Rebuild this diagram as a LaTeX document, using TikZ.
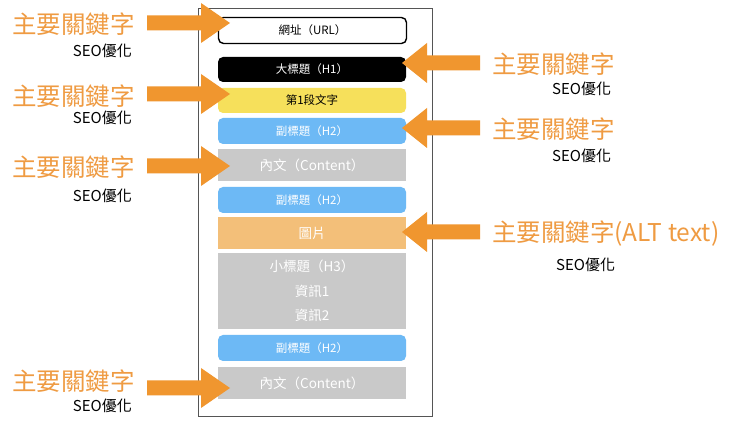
\documentclass[tikz,border=0pt]{standalone}
\usepackage{fontspec}
\setmainfont{Noto Sans CJK TC}
\definecolor{arrowor}{HTML}{F0962F}
\definecolor{labelor}{HTML}{EF9B42}
\definecolor{hblue}{HTML}{6DB9F5}
\definecolor{hyellow}{HTML}{F6E05B}
\definecolor{hgray}{HTML}{C9C9C9}
\definecolor{horange}{HTML}{F3BF79}
\definecolor{framegray}{HTML}{555555}
\newcommand\rblockarrow[3]{% tail x, tip x, y  (tip to the right)
  \fill[arrowor] (#1,#3-7.5) -- (#2-29,#3-7.5) -- (#2-29,#3-20) -- (#2,#3)
    -- (#2-29,#3+20) -- (#2-29,#3+7.5) -- (#1,#3+7.5) -- cycle;}
\newcommand\lblockarrow[3]{% tail x, tip x, y  (tip to the left)
  \fill[arrowor] (#1,#3-7.5) -- (#2+25,#3-7.5) -- (#2+25,#3-20) -- (#2,#3)
    -- (#2+25,#3+20) -- (#2+25,#3+7.5) -- (#1,#3+7.5) -- cycle;}
\begin{document}
\begin{tikzpicture}[x=1pt,y=-1pt,
  box/.style={minimum width=188pt, inner sep=0pt, outer sep=0pt, anchor=north west},
  rbox/.style={box, rounded corners=5pt},
  wtext/.style={text=white, font=\fontsize{11.5}{13}\selectfont},
  gtext/.style={text=white, font=\fontsize{13.5}{15}\selectfont},
  key/.style={text=labelor, inner sep=0pt, font=\fontsize{24.5}{27}\selectfont},
  seo/.style={text=black, inner sep=0pt, font=\fontsize{15}{17}\selectfont}]
\useasboundingbox (0,0) rectangle (729,430);
\fill[white] (0,0) rectangle (729,430);
% frame
\node[draw=framegray, line width=0.8pt, minimum width=234pt, minimum height=408pt,
  inner sep=0pt, anchor=north west] (frame) at (198,8) {};
% boxes
\node[rbox, draw=black, line width=1.4pt, fill=white, minimum height=26pt,
  font=\fontsize{11.5}{13}\selectfont] (url) at (218.5,17.5) {網址（URL）};
\node[rbox, fill=black, minimum height=25pt, wtext] (h1) at (218,57) {大標題（H1）};
\node[rbox, fill=hyellow, minimum height=25pt, font=\fontsize{11.5}{13}\selectfont] (p1) at (218,88) {第1段文字};
\node[rbox, fill=hblue, minimum height=26pt, wtext] (h2a) at (218,118) {副標題（H2）};
\node[box, fill=hgray, minimum height=32pt, gtext] (c1) at (218,149) {內文（Content）};
\node[rbox, fill=hblue, minimum height=26pt, wtext] (h2b) at (218,187) {副標題（H2）};
\node[box, fill=horange, minimum height=32pt, gtext] (img) at (218,217) {圖片};
\node[box, fill=hgray, minimum height=76pt, text=white, align=center,
  font=\fontsize{13.5}{24.5}\selectfont] (h3) at (218,253) {小標題（H3）\\資訊1\\資訊2};
\node[rbox, fill=hblue, minimum height=26pt, wtext] (h2c) at (218,335) {副標題（H2）};
\node[box, fill=hgray, minimum height=32pt, gtext] (c2) at (218,367) {內文（Content）};
% left labels
\node[key, anchor=east] (lk1) at (135,24) {主要關鍵字};
\node[seo, anchor=east] (ls1) at (132,51) {SEO優化};
\node[key, anchor=east] (lk2) at (135,96) {主要關鍵字};
\node[seo, anchor=east] (ls2) at (132,118) {SEO優化};
\node[key, anchor=east] (lk3) at (135,167) {主要關鍵字};
\node[seo, anchor=east] (ls3) at (132,196) {SEO優化};
\node[key, anchor=east] (lk4) at (135,381) {主要關鍵字};
\node[seo, anchor=east] (ls4) at (132,406) {SEO優化};
% right labels
\node[key, anchor=west] (rk1) at (492,64) {主要關鍵字};
\node[seo, anchor=west] (rs1) at (552,89) {SEO優化};
\node[key, anchor=west] (rk2) at (492,129) {主要關鍵字};
\node[seo, anchor=west] (rs2) at (552,156) {SEO優化};
\node[key, anchor=west] (rk3) at (492,234) {主要關鍵字(ALT text)};
\node[seo, anchor=west] (rs3) at (556,265) {SEO優化};
% arrows
\rblockarrow{147}{230}{23}
\rblockarrow{147}{230}{94}
\rblockarrow{147}{230}{166}
\rblockarrow{147}{230}{388}
\lblockarrow{480}{402}{63}
\lblockarrow{480}{402}{128}
\lblockarrow{480}{402}{232}
\end{tikzpicture}
\end{document}
